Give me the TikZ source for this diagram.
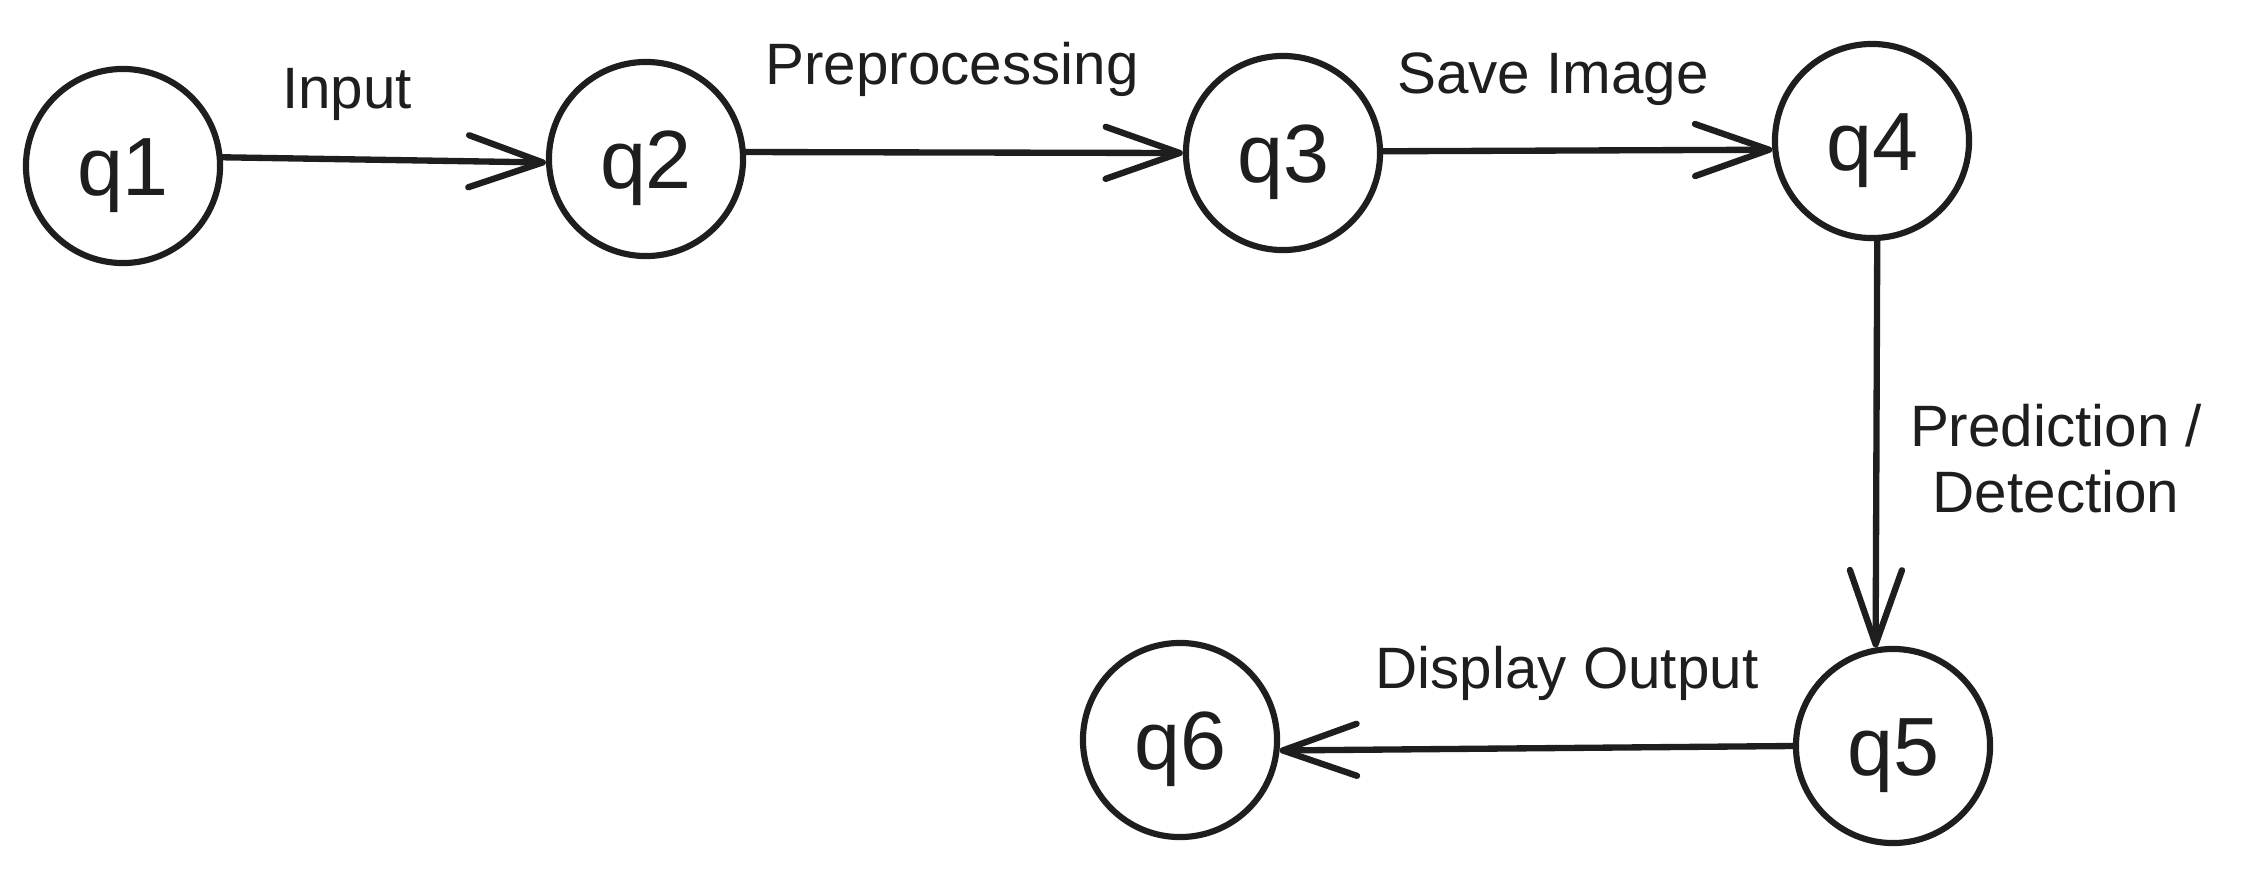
\documentclass[tikz,border=0pt]{standalone}
\usepackage{fontspec}
\setmainfont{Liberation Sans}
\usetikzlibrary{arrows.meta}
\definecolor{ink}{HTML}{1E1E1E}
\begin{document}
\begin{tikzpicture}[x=0.01cm,y=-0.01cm,
  state/.style={circle,draw=ink,line width=1.75pt,minimum size=1.94cm,inner sep=0pt,
    text=ink,font=\fontsize{23.5}{26}\selectfont,text height=16.8pt,text depth=0pt},
  edgelabel/.style={anchor=base,text=ink,inner sep=0pt,font=\fontsize{16.6}{19.3}\selectfont},
  conn/.style={draw=ink,line width=1.8pt,line cap=round,
    -{Straight Barb[length=0.74cm,width=0.52cm,round]}}]
\useasboundingbox (0,0) rectangle (2260,872);
\node[state] (q1) at (123,166) {q1};
\node[state] (q2) at (646,159) {q2};
\node[state] (q3) at (1283,153) {q3};
\node[state] (q4) at (1872,141) {q4};
\node[state] (q5) at (1893,746) {q5};
\node[state] (q6) at (1180,740) {q6};

\draw[conn] (q1.5) -- (q2.182);
\draw[conn] (q2.4) -- (q3.180);
\draw[conn] (q3.1) -- (q4.185);
\draw[conn] (q4.273) -- (q5.100);
\draw[conn] (q5.180) -- (q6.-6);

\node[edgelabel] (l1) at (347,108) {Input};
\node[edgelabel] (l2) at (952,84) {Preprocessing};
\node[edgelabel] (l3) at (1553,93) {Save Image};
\node[edgelabel,align=center,anchor=north] (l4) at (2056,403) {Prediction /\\[-0.02em]Detection};
\node[edgelabel] (l5) at (1567,688) {Display Output};
\end{tikzpicture}
\end{document}
